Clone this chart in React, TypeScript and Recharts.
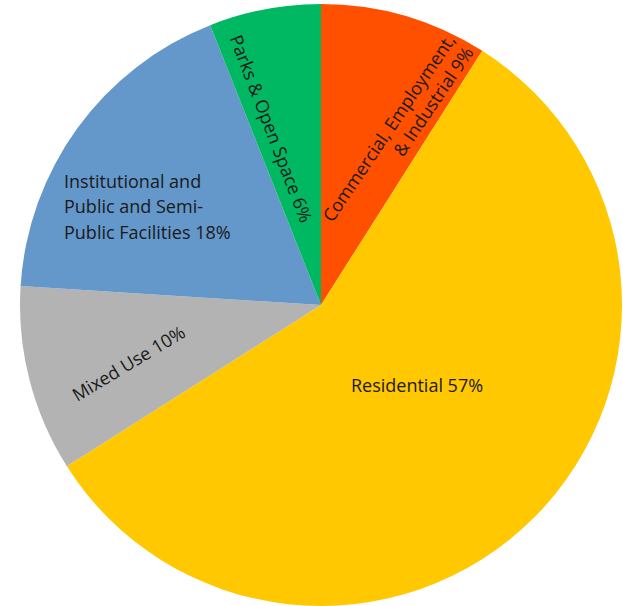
import React from 'react';
import { PieChart, Pie, Cell } from 'recharts';

const categories = [
  'Commercial, Employment, & Industrial',
  'Residential',
  'Mixed Use',
  'Institutional and Public and Semi-Public Facilities',
  'Parks & Open Space',
];
const values = [9, 57, 10, 18, 6];
const colors = ['#FF5000', '#FFC800', '#B3B3B3', '#6497CA', '#00B862'];
const labelLines = [
  ['Commercial, Employment,', '& Industrial 9%'],
  ['Residential 57%'],
  ['Mixed Use 10%'],
  ['Institutional and', 'Public and Semi-', 'Public Facilities 18%'],
  ['Parks & Open Space 6%'],
];

// label layout (offset from pie centre, rotation, anchor, line height)
const labelLayout = [
  { dx: 135, dy: -265, rotate: -56, anchor: 'end', lh: 22 },
  { dx: 96, dy: 87, rotate: 0, anchor: 'middle', lh: 22 },
  { dx: -189, dy: 64, rotate: -31, anchor: 'middle', lh: 22 },
  { dx: -257, dy: -117.5, rotate: 0, anchor: 'start', lh: 25.5 },
  { dx: -56, dy: -174, rotate: 69, anchor: 'middle', lh: 22 },
];

const data = categories.map((name, i) => ({ name, value: values[i] }));

const FONT = 'Open Sans, sans-serif';
const FS = 18;

const renderLabel = (props: any) => {
  const { cx, cy, index } = props;
  const l = labelLayout[index];
  const x = cx + l.dx;
  const y = cy + l.dy;
  const lines = labelLines[index];
  return (
    <text
      key={`lbl-${index}`}
      x={x}
      y={y}
      textAnchor={l.anchor as any}
      fill="#1A1A1A"
      fontFamily={FONT}
      fontSize={FS}
      transform={l.rotate ? `rotate(${l.rotate}, ${x}, ${y})` : undefined}
    >
      {lines.map((t, k) => (
        <tspan key={k} x={x} dy={k === 0 ? 0 : l.lh}>
          {t}
        </tspan>
      ))}
    </text>
  );
};

export default function App() {
  return (
    <div style={{ position: 'absolute', left: 0, top: 0, width: 623, height: 606, background: '#fff' }}>
      <PieChart width={623} height={606} margin={{ top: 0, right: 0, bottom: 0, left: 0 }}>
        <Pie
          data={data}
          dataKey="value"
          nameKey="name"
          cx={321}
          cy={305}
          outerRadius={301}
          startAngle={90}
          endAngle={-270}
          stroke="none"
          label={renderLabel}
          labelLine={false}
          isAnimationActive={false}
        >
          {data.map((d, i) => (
            <Cell key={d.name} fill={colors[i]} />
          ))}
        </Pie>
      </PieChart>
    </div>
  );
}
